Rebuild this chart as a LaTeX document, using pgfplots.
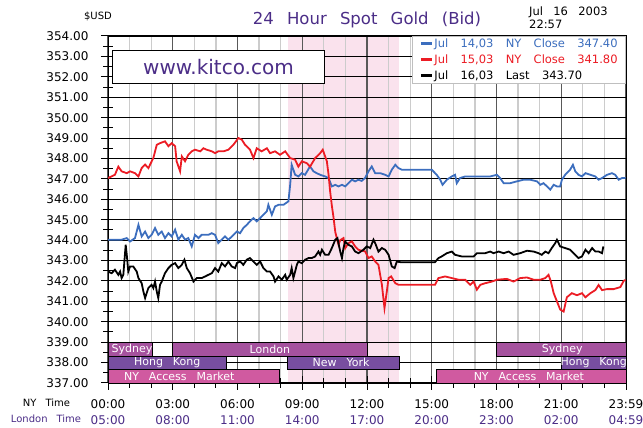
\documentclass[border=0pt]{standalone}
\usepackage{fontspec}
\setmainfont{DejaVu Sans}
\usepackage{pgfplots}
\pgfplotsset{compat=1.18}
\definecolor{kpurple}{RGB}{75,45,135}
\definecolor{kblue}{RGB}{60,110,190}
\definecolor{kred}{RGB}{236,28,36}
\definecolor{kpink}{RGB}{250,226,237}
\definecolor{barA}{RGB}{165,82,158}
\definecolor{barB}{RGB}{120,78,160}
\definecolor{barC}{RGB}{208,90,160}
\newcommand\ws{\hspace{0.9em}}
\newcommand\ls{\hspace{1.07em}}
\pgfplotsset{
  layers/mylayers/.define layer set={axis background,axis grid,pre main,main,axis ticks,axis lines,axis tick labels,axis descriptions,axis foreground}{},
}
\begin{document}
\begin{tikzpicture}
\begin{axis}[
  set layers=mylayers,
  at={(108pt,45pt)}, anchor=south west,
  scale only axis, width=518pt, height=347pt,
  xmin=0, xmax=24, ymin=337, ymax=354,
  xtick={0,3,...,24},
  xticklabels={{00:00\\\textcolor{kpurple}{05:00}},{03:00\\\textcolor{kpurple}{08:00}},{06:00\\\textcolor{kpurple}{11:00}},{09:00\\\textcolor{kpurple}{14:00}},{12:00\\\textcolor{kpurple}{17:00}},{15:00\\\textcolor{kpurple}{20:00}},{18:00\\\textcolor{kpurple}{23:00}},{21:00\\\textcolor{kpurple}{02:00}},{23:59\\\textcolor{kpurple}{04:59}}},
  xticklabel style={align=center, font=\fontsize{12}{16}\selectfont, yshift=-6pt},
  minor x tick num=2,
  ytick={337,...,354},
  minor y tick num=1,
  yticklabel style={font=\fontsize{12}{14}\selectfont, xshift=-9pt},
  /pgf/number format/fixed, /pgf/number format/fixed zerofill,
  /pgf/number format/precision=2, /pgf/number format/1000 sep={},
  /pgf/number format/assume math mode=true,
  xtick pos=bottom, ytick pos=left,
  tick align=center, major tick length=14pt, minor tick length=10pt,
  tick style={black, line width=1pt},
  axis line style={black, line width=1pt},
  xmajorgrids, xminorgrids, ymajorgrids,
  major x grid style={draw=black!65, line width=1.2pt},
  minor x grid style={draw=black!20, line width=1.3pt},
  major y grid style={draw=black, line width=0.9pt},
  legend style={at={(1,1)}, anchor=north east, draw=black!25, fill=white, line width=0.8pt,
    inner xsep=7pt, inner ysep=1pt, font=\fontsize{11.5}{13}\selectfont, row sep=4pt,
    nodes={inner sep=1pt}},
  legend cell align=left,
  legend image code/.code={\draw[line width=3pt] (0pt,0pt) -- (11pt,0pt);},
]
\addplot[forget plot, on layer=axis background, fill=kpink, draw=none] coordinates {(8.333,337) (13.5,337) (13.5,354) (8.333,354)} -- cycle;

% Jul 14
\addplot[kblue, line width=1.8pt] coordinates {
(0.0,344.02) (0.32,344.02) (0.63,344.02) (0.87,344.10) (1.02,343.93) (1.25,344.10) (1.41,344.75) (1.56,344.18) (1.72,344.42) (1.87,344.10) (2.02,344.26) (2.18,344.59) (2.33,344.26) (2.49,344.42) (2.64,344.10) (2.80,344.34) (2.95,344.18) (3.11,344.51) (3.26,344.02) (3.42,344.26) (3.57,344.02) (3.72,344.10) (3.88,343.69) (4.03,344.26) (4.19,344.10) (4.34,344.26) (4.50,344.26) (4.65,344.26) (4.81,344.34) (4.96,344.26) (5.11,343.85) (5.27,344.02) (5.42,344.18) (5.58,344.02) (5.66,344.10) (5.81,344.25) (5.97,344.42) (6.12,344.34) (6.27,344.59) (6.43,344.75) (6.58,344.92) (6.74,345.08) (6.89,344.92) (7.05,345.08) (7.20,345.24) (7.36,345.41) (7.43,345.73) (7.59,345.24) (7.74,345.65) (7.90,345.73) (8.13,345.73) (8.36,345.90) (8.44,346.71) (8.51,347.69) (8.67,347.20) (8.82,347.12) (8.98,347.28) (9.13,347.20) (9.36,347.61) (9.52,347.37) (9.67,347.28) (9.83,347.20) (10.06,347.12) (10.22,347.04) (10.37,346.63) (10.53,346.71) (10.68,346.63) (10.84,346.71) (10.99,346.63) (11.14,346.79) (11.30,346.96) (11.45,346.88) (11.60,346.96) (11.75,346.90) (11.91,347.04) (12.07,347.37) (12.22,347.61) (12.38,347.28) (12.61,347.28) (12.84,347.20) (13.00,347.12) (13.15,347.45) (13.31,347.69) (13.46,347.53) (13.61,347.45) (15.00,347.45) (15.23,347.20) (15.39,346.96) (15.50,346.71) (15.70,346.96) (15.93,347.12) (16.08,347.20) (16.16,346.79) (16.31,347.04) (16.55,347.12) (16.86,347.12) (17.32,347.12) (17.71,347.12) (18.02,347.20) (18.17,347.04) (18.33,346.79) (18.64,346.79) (18.95,346.88) (19.26,346.96) (19.56,346.96) (19.87,346.88) (20.03,346.71) (20.18,346.79) (20.34,346.63) (20.49,346.47) (20.65,346.71) (20.80,346.63) (20.95,346.63) (21.03,346.96) (21.18,347.20) (21.41,347.45) (21.54,347.69) (21.65,347.37) (21.80,347.20) (21.96,347.12) (22.12,347.28) (22.35,347.20) (22.58,347.12) (22.73,346.96) (22.89,347.04) (23.12,347.20) (23.35,347.28) (23.50,347.20) (23.66,346.96) (23.81,347.04) (23.98,347.04)
};
\addlegendentry{\textcolor{kblue}{Jul\ls 14,03\ls NY\ls Close\ls 347.40}}

% Jul 15
\addplot[kred, line width=1.8pt] coordinates {
(0,347.04) (0.32,347.2) (0.48,347.6) (0.63,347.37) (0.87,347.28) (1.02,347.37) (1.25,347.28) (1.41,347.12) (1.56,347.53) (1.72,347.7) (1.87,347.53) (2.10,348.02) (2.26,348.67) (2.41,348.75) (2.64,348.84) (2.80,348.6) (2.95,348.75) (3.11,348.6) (3.18,347.86) (3.34,347.37) (3.42,348.1) (3.57,347.86) (3.72,348.18) (3.88,348.35) (4.03,348.43) (4.27,348.35) (4.42,348.5) (4.57,348.43) (4.81,348.35) (4.96,348.26) (5.11,348.35) (5.35,348.35) (5.58,348.43) (5.81,348.67) (6.04,349.0) (6.20,348.92) (6.35,348.67) (6.58,348.43) (6.74,348.02) (6.89,348.5) (7.12,348.35) (7.36,348.5) (7.51,348.26) (7.74,348.35) (7.97,348.18) (8.21,348.35) (8.44,348.02) (8.67,347.94) (8.82,347.6) (8.98,347.86) (9.21,347.77) (9.36,347.6) (9.60,348.02) (9.83,348.26) (9.95,348.43) (10.06,348.1) (10.14,347.86) (10.22,347.2) (10.29,346.4) (10.37,345.7) (10.45,345.1) (10.53,344.4) (10.60,344.1) (10.68,343.77) (10.76,344.0) (10.91,344.1) (10.99,343.6) (11.14,343.85) (11.30,343.94) (11.45,343.69) (11.60,343.53) (11.68,343.5) (11.91,343.45) (12.07,343.12) (12.22,343.2) (12.38,342.95) (12.53,342.79) (12.69,341.81) (12.81,340.67) (12.92,341.5) (13.00,342.14) (13.12,342.22) (13.31,341.89) (13.46,341.81) (15.15,341.81) (15.31,342.14) (15.62,342.22) (15.93,342.14) (16.24,342.06) (16.55,342.06) (16.78,341.81) (16.94,341.97) (17.09,341.57) (17.25,341.81) (17.48,341.89) (17.79,341.97) (18.02,342.06) (18.48,342.1) (18.79,341.97) (19.10,342.14) (19.41,342.17) (19.72,342.06) (20.03,342.06) (20.26,342.14) (20.41,342.3) (20.52,341.97) (20.65,341.4) (20.80,341.0) (20.95,340.6) (21.11,340.5) (21.26,341.2) (21.49,341.4) (21.73,341.3) (21.96,341.4) (22.12,341.2) (22.35,341.4) (22.58,341.55) (22.73,341.8) (22.89,341.55) (23.12,341.6) (23.43,341.6) (23.74,341.7) (23.89,342.0) (23.98,342.05)
};
\addlegendentry{\textcolor{kred}{Jul\ls 15,03\ls NY\ls Close\ls 341.80}}

% Jul 16
\addplot[black, line width=1.8pt] coordinates {
(0.0,342.46) (0.17,342.38) (0.32,342.55) (0.48,342.30) (0.56,342.46) (0.63,342.14) (0.71,342.30) (0.82,343.77) (0.87,343.28) (0.94,342.46) (1.02,342.71) (1.17,342.71) (1.33,342.46) (1.41,342.14) (1.56,341.89) (1.64,341.48) (1.72,341.16) (1.79,341.40) (1.87,341.65) (2.02,341.81) (2.10,341.65) (2.18,341.97) (2.26,341.48) (2.33,341.16) (2.41,341.81) (2.49,341.97) (2.64,342.38) (2.80,342.63) (2.95,342.79) (3.11,342.87) (3.26,342.63) (3.42,342.79) (3.54,343.04) (3.65,342.63) (3.80,342.38) (3.96,341.97) (4.11,342.14) (4.34,342.14) (4.50,342.22) (4.65,342.30) (4.81,342.38) (4.96,342.63) (5.11,342.46) (5.27,342.87) (5.42,342.71) (5.58,342.95) (5.73,342.71) (5.89,342.63) (5.97,342.87) (6.12,342.95) (6.27,342.79) (6.43,343.04) (6.58,343.12) (6.74,342.95) (6.89,342.79) (7.05,342.95) (7.20,342.63) (7.36,342.46) (7.51,342.46) (7.67,342.22) (7.74,341.97) (7.90,342.22) (8.05,342.06) (8.21,342.30) (8.28,342.06) (8.44,342.30) (8.51,342.63) (8.59,342.14) (8.67,342.46) (8.75,342.79) (8.82,342.95) (8.98,342.87) (9.13,343.04) (9.29,343.12) (9.44,343.12) (9.60,343.20) (9.75,343.44) (9.83,343.28) (9.91,343.53) (10.06,343.28) (10.22,343.28) (10.37,343.61) (10.53,344.02) (10.63,344.10) (10.76,343.44) (10.84,343.12) (10.91,343.61) (10.99,343.93) (11.14,343.77) (11.30,343.69) (11.45,343.44) (11.60,343.36) (11.84,343.53) (11.99,343.69) (12.15,343.61) (12.30,344.02) (12.38,343.85) (12.53,343.44) (12.69,343.61) (12.84,343.53) (13.00,343.28) (13.15,342.71) (13.28,342.63) (13.38,342.95) (13.54,342.92) (15.15,342.92) (15.31,343.12) (15.46,343.20) (15.70,343.36) (15.93,343.44) (16.08,343.28) (16.39,343.20) (16.70,343.20) (16.94,343.20) (17.09,343.36) (17.48,343.36) (17.71,343.44) (17.86,343.36) (18.10,343.44) (18.33,343.36) (18.56,343.44) (18.79,343.28) (19.10,343.36) (19.41,343.48) (19.72,343.44) (19.95,343.36) (20.10,343.28) (20.26,343.44) (20.41,343.36) (20.56,343.61) (20.72,343.85) (20.80,344.02) (20.95,343.69) (21.18,343.61) (21.41,343.53) (21.65,343.28) (21.80,343.12) (21.96,343.20) (22.12,343.53) (22.27,343.36) (22.43,343.61) (22.58,343.44) (22.73,343.44) (22.89,343.36) (22.95,343.69)
};
\addlegendentry{Jul\ls 16,03\ls Last\ls 343.70}

% trading sessions
\addplot[forget plot, fill=barA, draw=black, line width=0.8pt] coordinates {(0,339) (2.08,339) (2.08,338.31) (0,338.31)} -- cycle;
\addplot[forget plot, fill=barA, draw=black, line width=0.8pt] coordinates {(3,339) (12,339) (12,338.31) (3,338.31)} -- cycle;
\addplot[forget plot, fill=barA, draw=black, line width=0.8pt] coordinates {(18,339) (24,339) (24,338.31) (18,338.31)} -- cycle;
\addplot[forget plot, fill=barB, draw=black, line width=0.8pt] coordinates {(0,338.31) (5.5,338.31) (5.5,337.69) (0,337.69)} -- cycle;
\addplot[forget plot, fill=barB, draw=black, line width=0.8pt] coordinates {(8.333,338.31) (13.5,338.31) (13.5,337.69) (8.333,337.69)} -- cycle;
\addplot[forget plot, fill=barB, draw=black, line width=0.8pt] coordinates {(21,338.31) (24,338.31) (24,337.69) (21,337.69)} -- cycle;
\addplot[forget plot, fill=barC, draw=black, line width=0.8pt] coordinates {(0,337.69) (7.95,337.69) (7.95,337) (0,337)} -- cycle;
\addplot[forget plot, fill=barC, draw=black, line width=0.8pt] coordinates {(15.2,337.69) (24,337.69) (24,337) (15.2,337)} -- cycle;

\begin{scope}[every node/.style={text=white, font=\fontsize{11}{12}\selectfont, inner sep=0pt}]
\node at (axis cs:1.11,338.65) {Sydney};
\node at (axis cs:7.5,338.65) {London};
\node at (axis cs:21.05,338.65) {Sydney};
\node at (axis cs:2.74,338.0) {Hong\ws Kong};
\node at (axis cs:10.8,338.0) {New\ws York};
\node at (axis cs:22.5,338.0) {Hong\ws Kong};
\node at (axis cs:3.3,337.345) {NY\ws Access\ws Market};
\node at (axis cs:19.5,337.345) {NY\ws Access\ws Market};
\end{scope}
\end{axis}

\node[draw=black, line width=1pt, fill=white, minimum width=212pt, minimum height=33pt, inner sep=0pt, anchor=north west, font=\fontsize{20}{24}\selectfont, text=kpurple] at (112pt,378pt) {www.kitco.com};
\node[font=\fontsize{10}{12}\selectfont] at (98pt,412pt) {\$USD};
\node[font=\fontsize{16.5}{20}\selectfont, text=kpurple] at (367pt,408pt) {24\hspace{0.8em}Hour\hspace{0.8em}Spot\hspace{0.8em}Gold\hspace{0.8em}(Bid)};
\node[font=\fontsize{11.5}{13}\selectfont, anchor=base west, inner sep=0pt] at (529pt,412pt) {Jul\ws 16\ws 2003};
\node[font=\fontsize{11.5}{13}\selectfont, anchor=base west, inner sep=0pt] at (529pt,399.7pt) {22:57};
\node[font=\fontsize{10}{12}\selectfont] at (46.5pt,25pt) {NY\ws Time};
\node[font=\fontsize{10}{12}\selectfont, text=kpurple] at (46pt,9pt) {London\ws Time};
\pgfresetboundingbox
\useasboundingbox (0pt,0pt) rectangle (643pt,428pt);
\end{tikzpicture}
\end{document}
